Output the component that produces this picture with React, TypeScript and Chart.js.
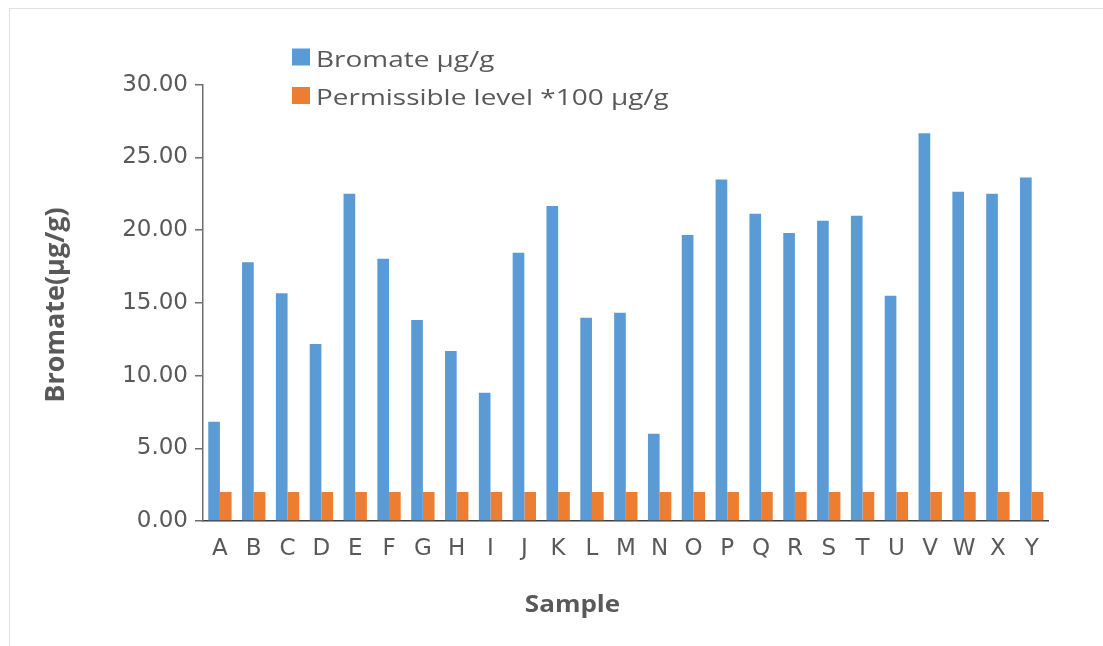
import React, { useEffect, useRef } from 'react';
import { Chart, registerables } from 'chart.js';

Chart.register(...registerables);

const categories = ['A', 'B', 'C', 'D', 'E', 'F', 'G', 'H', 'I', 'J', 'K', 'L', 'M', 'N', 'O', 'P', 'Q', 'R', 'S', 'T', 'U', 'V', 'W', 'X', 'Y'];
const bromate = [6.82, 17.78, 15.65, 12.16, 22.5, 18.03, 13.81, 11.68, 8.82, 18.44, 21.65, 13.97, 14.32, 6.0, 19.66, 23.48, 21.12, 19.79, 20.64, 20.98, 15.48, 26.65, 22.63, 22.5, 23.62];
const permissible = [2, 2, 2, 2, 2, 2, 2, 2, 2, 2, 2, 2, 2, 2, 2, 2, 2, 2, 2, 2, 2, 2, 2, 2, 2];
const yTicks = [0, 5, 10, 15, 20, 25, 30];
const seriesLabels = ['Bromate μg/g', 'Permissible level *100 μg/g'];
const xTitle = 'Sample';
const yTitle = 'Bromate(μg/g)';

const TEXT = '#595959';

const textPlugin = {
  id: 'customTexts',
  afterDraw(chart: any) {
    const ctx = chart.ctx as CanvasRenderingContext2D;
    ctx.save();
    // legend
    chart.data.datasets.forEach((ds: any, i: number) => {
      const base = 66.5 + i * 38.5;
      ctx.fillStyle = ds.backgroundColor;
      ctx.fillRect(292, base - 18, 18, 17);
      ctx.save();
      ctx.translate(316, base);
      ctx.scale(1.27, 1);
      ctx.font = '22px "Open Sans"';
      ctx.fillStyle = TEXT;
      ctx.textAlign = 'left';
      ctx.textBaseline = 'alphabetic';
      ctx.fillText(ds.label, 0, 0);
      ctx.restore();
    });
    // x title
    ctx.save();
    ctx.translate(572.5, 612);
    ctx.scale(1.13, 1);
    ctx.font = 'bold 23px "Open Sans"';
    ctx.fillStyle = TEXT;
    ctx.textAlign = 'center';
    ctx.textBaseline = 'alphabetic';
    ctx.fillText(xTitle, 0, 0);
    ctx.restore();
    // y title
    ctx.save();
    ctx.translate(63.5, 305);
    ctx.rotate(-Math.PI / 2);
    ctx.font = 'bold 27px "Open Sans"';
    ctx.fillStyle = TEXT;
    ctx.textAlign = 'center';
    ctx.textBaseline = 'alphabetic';
    ctx.fillText(yTitle, 0, 0);
    ctx.restore();
    ctx.restore();
  },
};

export default function App() {
  const ref = useRef<HTMLCanvasElement | null>(null);

  useEffect(() => {
    if (!ref.current) return;
    const chart = new Chart(ref.current, {
      type: 'bar',
      data: {
        labels: categories,
        datasets: [
          {
            label: seriesLabels[0],
            data: bromate,
            backgroundColor: '#5B9BD5',
            categoryPercentage: 0.69,
            barPercentage: 1.0,
          },
          {
            label: seriesLabels[1],
            data: permissible,
            backgroundColor: '#ED7D31',
            categoryPercentage: 0.69,
            barPercentage: 1.0,
          },
        ],
      },
      options: {
        responsive: false,
        animation: false,
        devicePixelRatio: 1,
        layout: { padding: { left: 0, top: 84.6, right: 54.4, bottom: 0 } },
        plugins: {
          legend: { display: false },
          tooltip: { enabled: false },
        },
        scales: {
          x: {
            grid: { display: false, drawTicks: false },
            border: { display: true, color: '#404040', width: 1.5 },
            ticks: {
              color: TEXT,
              font: { family: '"DejaVu Sans"', size: 23 },
              padding: 14,
              maxRotation: 0,
              autoSkip: false,
            },
            afterFit: (s: any) => {
              s.height = 125;
            },
          },
          y: {
            min: 0,
            max: 30,
            afterBuildTicks: (s: any) => {
              s.ticks = yTicks.map((v) => ({ value: v }));
            },
            ticks: {
              color: TEXT,
              font: { family: '"DejaVu Sans"', size: 23 },
              padding: 7,
              callback: (v: any) => Number(v).toFixed(2),
            },
            grid: { drawOnChartArea: false, drawTicks: true, tickLength: 8, color: '#6f6f6f', lineWidth: 1.5 },
            border: { display: true, color: '#6f6f6f', width: 1.5 },
            afterFit: (s: any) => {
              s.width = 203;
            },
          },
        },
      },
      plugins: [textPlugin],
    });
    return () => chart.destroy();
  }, []);

  return (
    <div style={{ position: 'fixed', left: 0, top: 0, width: 1103, height: 646, background: '#ffffff', overflow: 'hidden' }}>
      <div
        style={{
          position: 'absolute',
          left: 9,
          top: 8,
          width: 1200,
          height: 800,
          borderLeft: '1.5px solid #e2e2e2',
          borderTop: '1.5px solid #e2e2e2',
        }}
      />
      <canvas ref={ref} width={1103} height={646} style={{ position: 'absolute', left: 0, top: 0, display: 'block' }} />
    </div>
  );
}
